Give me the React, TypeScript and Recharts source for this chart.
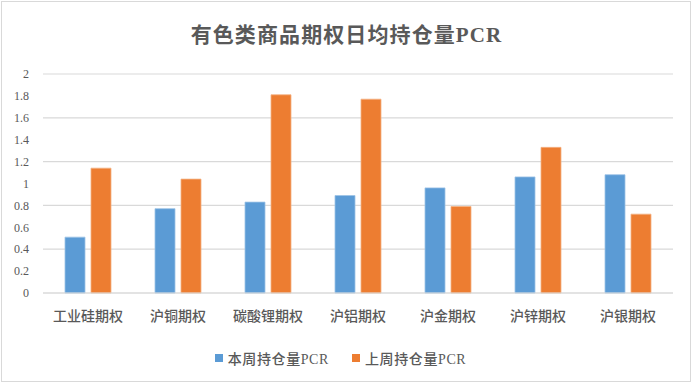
import React from 'react';
import { BarChart, Bar, XAxis, YAxis, CartesianGrid, Legend } from 'recharts';

const categories = ['工业硅期权', '沪铜期权', '碳酸锂期权', '沪铝期权', '沪金期权', '沪锌期权', '沪银期权'];
const thisWeek = [0.51, 0.77, 0.83, 0.89, 0.96, 1.06, 1.08];
const lastWeek = [1.14, 1.04, 1.81, 1.77, 0.79, 1.33, 0.72];
const yTicks = [0, 0.2, 0.4, 0.6, 0.8, 1, 1.2, 1.4, 1.6, 1.8, 2];
const seriesNames = ['本周持仓量PCR', '上周持仓量PCR'];

const data = categories.map((c, i) => ({ name: c, a: thisWeek[i], b: lastWeek[i] }));

const FONT = "'Liberation Serif', 'Noto Sans CJK SC', serif";
const TEXT = '#595959';
const BLUE = '#5B9BD5';
const ORANGE = '#ED7D31';

const LegendContent = () => (
  <div style={{ height: 41, display: 'flex', justifyContent: 'center', alignItems: 'flex-start', paddingTop: 5, paddingLeft: 8, boxSizing: 'border-box', fontFamily: FONT, fontSize: 14, color: TEXT, fontWeight: 500, letterSpacing: 0.6 }}>
    {[BLUE, ORANGE].map((col, i) => (
      <div key={i} style={{ display: 'flex', alignItems: 'center', marginLeft: i ? 23 : 0 }}>
        <span style={{ display: 'inline-block', width: 8, height: 8, background: col, marginRight: 5 }} />
        <span>{seriesNames[i]}</span>
      </div>
    ))}
  </div>
);

export default function App() {
  return (
    <div style={{ position: 'absolute', left: 0, top: 0, width: 693, height: 384, background: '#fff' }}>
      <div style={{ position: 'absolute', left: 1, top: 1, width: 690, height: 381, boxSizing: 'border-box', border: '1px solid #D9D9D9' }} />
      <div style={{ position: 'absolute', left: 0, top: 21, width: 693, textAlign: 'center', fontFamily: FONT, fontSize: 21, fontWeight: 'bold', color: TEXT, lineHeight: '28px', letterSpacing: 1.1 }}>
        有色类商品期权日均持仓量PCR
      </div>
      <BarChart width={693} height={384} data={data} margin={{ top: 74, right: 20, bottom: 0, left: 0 }} barSize={20} barGap={6}>
        <CartesianGrid vertical={false} stroke="#D9D9D9" strokeWidth={1.2} />
        <XAxis dataKey="name" height={50} tickSize={0} tickMargin={18} axisLine={{ stroke: '#D9D9D9', strokeWidth: 1.2 }} tickLine={false} interval={0}
          tick={{ fontFamily: FONT, fontSize: 14, fill: TEXT, fontWeight: 500 }} />
        <YAxis width={43} domain={[0, 2]} ticks={yTicks} tickSize={0} tickMargin={14} axisLine={false} tickLine={false}
          tick={{ fontFamily: FONT, fontSize: 12, fill: TEXT }} />
        <Legend verticalAlign="bottom" content={<LegendContent />} />
        <Bar dataKey="a" name={seriesNames[0]} fill={BLUE} stroke="#9DC3E6" strokeWidth={0.8} isAnimationActive={false} />
        <Bar dataKey="b" name={seriesNames[1]} fill={ORANGE} stroke="#F4B183" strokeWidth={0.8} isAnimationActive={false} />
      </BarChart>
    </div>
  );
}
